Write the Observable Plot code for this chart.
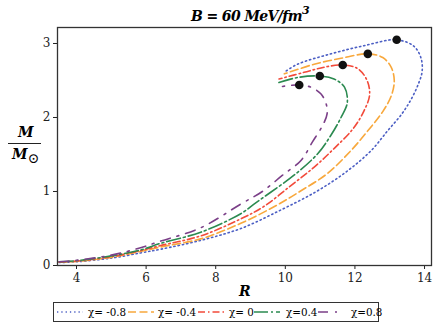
<!DOCTYPE html>
<html><head><meta charset="utf-8">
<script src="https://cdn.jsdelivr.net/npm/d3@7"></script>
<script src="https://cdn.jsdelivr.net/npm/@observablehq/plot@0.6"></script>
<style>
body{margin:0;background:#fff;}
#wrap{position:relative;width:436px;height:329px;font-family:'DejaVu Serif',serif;}
#title{position:absolute;left:0;width:500px;top:5px;text-align:center;font-weight:bold;font-style:italic;font-size:14px;letter-spacing:-0.6px;font-family:'DejaVu Serif';}
.lab{position:absolute;font-weight:bold;font-style:italic;font-family:'DejaVu Serif';}
#legend{position:absolute;left:53px;top:302px;width:326px;height:20px;border:1px solid #333;box-sizing:border-box;white-space:nowrap;font-size:11.5px;font-family:'DejaVu Serif Condensed','DejaVu Sans Condensed';}
#legend .sw{position:absolute;top:4px;}
#legend .tx{position:absolute;top:2px;line-height:14px;}
</style></head>
<body><div id="wrap">
<div id="title">B = 60 MeV/fm<sup style="font-size:11px;position:relative;top:-1px">3</sup></div>
<div class="lab" style="left:18px;top:124px;font-size:14px;">M</div>
<div style="position:absolute;left:8px;top:143px;width:33px;height:1.3px;background:#222"></div>
<div class="lab" style="left:12px;top:146px;font-size:14px;">M<span style="font-style:normal;font-weight:normal;font-size:14px;position:relative;top:4px">&#8857;</span></div>
<div class="lab" style="left:239px;top:283px;font-size:14px;">R</div>
<div id="legend"></div>
</div>
<script>
const chiLabels = ["χ= -0.8","χ= -0.4","χ= 0","χ=0.4","χ=0.8"];
const colors = ["#4c5fc4","#f8a83c","#f24a3a","#2b8a50","#7b3f88"];
const dashes = ["1.3,3","8,3.5","7,3,1.5,3","14,3,2,3","10,7,2,7"];

const R_a = [3.5,4,5,5.84,6.42,7.57,8.72,9.87,10.93,11.79,12.46,12.94,13.35,13.62,13.82,13.93,13.9,13.7,13.2,12.26,11.31,10.35,9.97];
const M_a = [0.04,0.05,0.1,0.17,0.22,0.34,0.5,0.75,1.01,1.28,1.55,1.82,2.05,2.25,2.45,2.62,2.8,2.96,3.05,2.97,2.86,2.72,2.61];
const R_b = [3.5,4,5,5.84,6.42,7.57,8.72,9.7,10.45,11.2,11.88,12.37,12.8,13.05,13.13,13.04,12.8,12.37,11.6,10.83,9.97];
const M_b = [0.045,0.055,0.11,0.19,0.25,0.36,0.57,0.8,1.01,1.24,1.55,1.82,2.08,2.3,2.5,2.68,2.81,2.86,2.8,2.72,2.59];
const R_c = [3.5,4,5,5.84,6.42,7.57,8.72,9.39,10.16,10.83,11.4,11.95,12.25,12.42,12.35,12.08,11.65,11.12,10.54,9.82];
const M_c = [0.045,0.06,0.12,0.2,0.27,0.4,0.63,0.8,1.08,1.33,1.58,1.85,2.08,2.3,2.5,2.66,2.71,2.68,2.61,2.52];
const R_d = [3.5,4,5,5.84,6.42,7.57,8.72,9.1,9.58,10.25,10.93,11.31,11.6,11.78,11.7,11.4,10.99,10.35,9.8];
const M_d = [0.05,0.065,0.13,0.21,0.3,0.45,0.7,0.83,0.99,1.22,1.51,1.76,2.0,2.2,2.41,2.52,2.56,2.54,2.47];
const R_e = [3.5,4,5,5.84,6.42,7.57,8.72,9.34,9.92,10.45,10.78,11.07,11.2,11.17,11.02,10.73,10.4,9.78];
const M_e = [0.05,0.07,0.14,0.24,0.33,0.51,0.83,1.0,1.22,1.42,1.67,1.89,2.05,2.19,2.32,2.41,2.44,2.41];

const maxR = [13.2,12.37,11.65,10.99,10.4];
const maxM = [3.05,2.86,2.71,2.56,2.44];

const xTicks = [4,6,8,10,12,14];
const yTicks = [0,1,2,3];

const Rs = [R_a,R_b,R_c,R_d,R_e];
const Ms = [M_a,M_b,M_c,M_d,M_e];
const series = Rs.map((R,i)=>R.map((r,j)=>({R:r,M:Ms[i][j]})));
const peaks = maxR.map((r,i)=>({R:r,M:maxM[i]}));

const marks = [];
series.forEach((s,i)=>{
  marks.push(Plot.line(s,{x:"R",y:"M",stroke:colors[i],strokeWidth:1.6,strokeDasharray:dashes[i],curve:"catmull-rom"}));
});
marks.push(Plot.dot(peaks,{x:"R",y:"M",r:4.3,fill:"#111",stroke:"none"}));
marks.push(Plot.frame({stroke:"#333",strokeWidth:1.3}));

const chart = Plot.plot({
  width:436,height:298,
  marginLeft:57,marginRight:5,marginTop:27,marginBottom:33,
  style:{fontFamily:"'DejaVu Serif', serif",fontSize:"12px",background:"transparent",color:"#222"},
  x:{domain:[3.454,14.2],ticks:xTicks,tickSize:4,tickPadding:4,label:null,tickFormat:d=>String(d)},
  y:{domain:[0,3.216],ticks:yTicks,tickSize:4,tickPadding:3,label:null,tickFormat:d=>String(d)},
  marks
});
chart.style.position="absolute";chart.style.left="0";chart.style.top="0";
document.getElementById("wrap").prepend(chart);

const leg = document.getElementById("legend");
const swX = [3,74,144,200,264];
const swW = [26,26,26,26,26];
const txX = [34,104,175,232,297];
chiLabels.forEach((lab,i)=>{
  const sw=document.createElement("div");sw.className="sw";sw.style.left=swX[i]+"px";
  sw.innerHTML=`<svg width="${swW[i]}" height="10" style="display:block"><line x1="0" x2="${swW[i]}" y1="5" y2="5" stroke="${colors[i]}" stroke-width="1.6" stroke-dasharray="${dashes[i]}"/></svg>`;
  leg.appendChild(sw);
  const tx=document.createElement("div");tx.className="tx";tx.style.left=txX[i]+"px";tx.textContent=lab;
  leg.appendChild(tx);
});
</script>
</body></html>
